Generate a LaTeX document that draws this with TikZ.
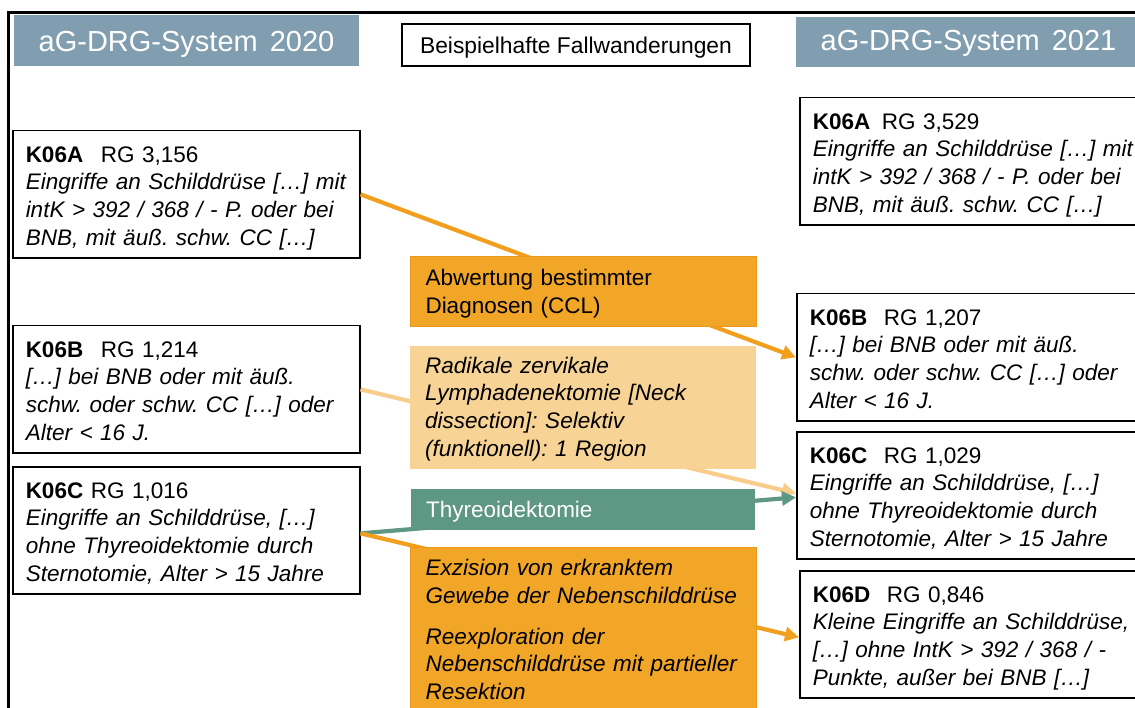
\documentclass[tikz,border=0pt]{standalone}
\usepackage{fontspec}
\setmainfont{Liberation Sans}
\usetikzlibrary{arrows.meta}
\frenchspacing

\definecolor{hdrblue}{RGB}{129,158,176}
\definecolor{chgorange}{RGB}{241,166,40}
\definecolor{chgorangeedge}{RGB}{236,152,22}
\definecolor{chgorangeline}{RGB}{240,160,30}
\definecolor{chglight}{RGB}{248,211,150}
\definecolor{chglightline}{RGB}{248,205,140}
\definecolor{chgteal}{RGB}{94,151,131}

% invisible rules that fix the first baseline and the space under the last line
\newcommand{\topstrut}[1]{\rule{0pt}{#1}}
\newcommand{\botstrut}[1]{\rule[-#1]{0pt}{#1}}

\tikzset{
  boxfont/.style={font=\fontsize{22.5}{27.6}\selectfont\frenchspacing},
  drgbox/.style={boxfont, draw=black, line width=1.5pt, fill=white,
    anchor=north west, inner xsep=13pt, inner ysep=0pt,
    text width=321pt, minimum width=347pt, minimum height=127pt, align=left},
  changebox/.style={boxfont, anchor=north west, inner xsep=15pt, inner ysep=0pt,
    text width=316pt, minimum width=346pt, align=left},
  header/.style={fill=hdrblue, text=white, inner sep=0pt,
    font=\fontsize{29}{34}\selectfont, minimum width=345pt, text depth=0pt},
  flow/.style={line width=4.2pt, -{Triangle[length=14pt,width=14pt]}}
}

\begin{document}
\begin{tikzpicture}[x=1pt, y=-1pt]
\useasboundingbox (0,0) rectangle (1135,708);
\clip (0,0) rectangle (1135,708);

% frame
\draw[line width=3pt] (8,730) -- (8,13) -- (1160,13);

% column headers and title
\node[header, minimum height=51pt, text height=23pt] (h20) at (186.5,40.5)
  {aG-DRG-System\hspace{12pt}2020};
\node[header, minimum height=50pt, text height=18pt] (h21) at (968.5,42)
  {aG-DRG-System\hspace{12pt}2021};
\node[draw=black, line width=1.5pt, inner sep=0pt, minimum width=348pt,
  minimum height=42pt, text height=17pt, text depth=0pt,
  font=\fontsize{22.8}{28}\selectfont] (title) at (576,45)
  {Beispielhafte Fallwanderungen};

% groups 2020
\node[drgbox] (la) at (12,130) {\topstrut{31.5pt}\textbf{K06A}\hspace{10pt} RG 3,156\\
  \textit{Eingriffe an Schilddrüse […] mit}\\
  \textit{intK > 392 / 368 / - P. oder bei}\\
  \textit{BNB, mit äuß. schw. CC […]}\botstrut{12.9pt}};
\node[drgbox] (lb) at (12,325) {\topstrut{31.5pt}\textbf{K06B}\hspace{10pt} RG 1,214\\
  \textit{[…] bei BNB oder mit äuß.}\\
  \textit{schw. oder schw. CC […] oder}\\
  \textit{Alter < 16 J.}\botstrut{12.9pt}};
\node[drgbox] (lc) at (12,466) {\topstrut{31.5pt}\textbf{K06C} RG 1,016\\
  \textit{Eingriffe an Schilddrüse, […]}\\
  \textit{ohne Thyreoidektomie durch}\\
  \textit{Sternotomie, Alter > 15 Jahre}\botstrut{12.9pt}};

% groups 2021
\node[drgbox] (ra) at (799,97) {\topstrut{31.5pt}\textbf{K06A}\hspace{4pt} RG 3,529\\
  \textit{Eingriffe an Schilddrüse […] mit}\\
  \textit{intK > 392 / 368 / - P. oder bei}\\
  \textit{BNB, mit äuß. schw. CC […]}\botstrut{12.9pt}};
\node[drgbox] (rb) at (796,293) {\topstrut{31.5pt}\textbf{K06B}\hspace{9pt} RG 1,207\\
  \textit{[…] bei BNB oder mit äuß.}\\
  \textit{schw. oder schw. CC […] oder}\\
  \textit{Alter < 16 J.}\botstrut{12.9pt}};
\node[drgbox] (rc) at (796,431) {\topstrut{31.5pt}\textbf{K06C}\hspace{9pt} RG 1,029\\
  \textit{Eingriffe an Schilddrüse, […]}\\
  \textit{ohne Thyreoidektomie durch}\\
  \textit{Sternotomie, Alter > 15 Jahre}\botstrut{12.9pt}};
\node[drgbox] (rd) at (799,570) {\topstrut{31.5pt}\textbf{K06D}\hspace{9pt} RG 0,846\\
  \textit{Kleine Eingriffe an Schilddrüse,}\\
  \textit{[…] ohne IntK > 392 / 368 / -}\\
  \textit{Punkte, außer bei BNB […]}\botstrut{12.9pt}};

% case migrations
\draw[flow, chgorangeline] (la.east) -- (rb.west);
\draw[flow, chglightline] (lb.east) -- ([yshift=2pt]rc.west);
\draw[flow, chgteal] ([yshift=-3pt]lc.east) -- ([yshift=-2pt]rc.west);
\draw[flow, chgorangeline] ([yshift=-3pt]lc.east) -- ([yshift=-3pt]rd.west);

% reasons for the migrations
\node[changebox, fill=chgorange, draw=chgorangeedge, line width=1pt] (mab) at (410,256)
  {\topstrut{29pt}Abwertung bestimmter\\Diagnosen (CCL)\botstrut{13pt}};
\node[changebox, fill=chglight] (mrad) at (410,346)
  {\itshape\topstrut{27pt}Radikale zervikale\\Lymphadenektomie [Neck\\dissection]: Selektiv\\(funktionell): 1 Region\botstrut{13.2pt}};
\node[changebox, fill=chgteal, text=white, minimum width=344pt, text width=314pt] (mthy) at (411,489)
  {\topstrut{28pt}Thyreoidektomie\botstrut{13pt}};
\node[changebox, fill=chgorange, draw=chgorangeedge, line width=1pt] (mexz) at (410,547)
  {\itshape\topstrut{28pt}Exzision von erkranktem\\Gewebe der Nebenschilddrüse\\[13.6pt]Reexploration der\\Nebenschilddrüse mit partieller\\Resektion\botstrut{18pt}};
\end{tikzpicture}
\end{document}
